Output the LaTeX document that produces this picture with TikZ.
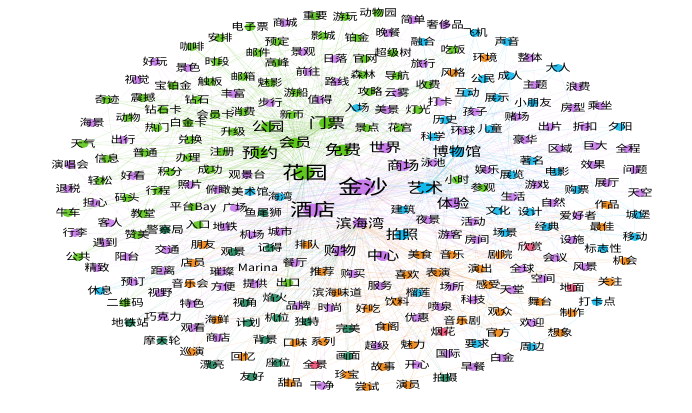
\documentclass[tikz,border=0pt]{standalone}
\usepackage{fontspec}
\newfontfamily\cjk[FakeStretch=1.25]{Noto Sans CJK SC}
\pgfdeclarelayer{bg}
\pgfsetlayers{bg,main}
\definecolor{cg}{RGB}{95,200,30}
\definecolor{cp}{RGB}{200,125,235}
\definecolor{cb}{RGB}{20,185,235}
\definecolor{co}{RGB}{240,135,20}
\definecolor{ct}{RGB}{35,140,100}
\definecolor{cr}{RGB}{240,80,120}
\tikzset{
  wbase/.style={inner sep=0pt,text=black},
  wa/.style={wbase,font=\cjk\fontsize{10}{10}\selectfont},
  wb/.style={wbase,font=\cjk\fontsize{13}{13}\selectfont},
  wc/.style={wbase,font=\cjk\fontsize{14.5}{14.5}\selectfont},
  wd/.style={wbase,font=\cjk\fontsize{18}{18}\selectfont},
  we/.style={wbase,font=\cjk\fontsize{20}{20}\selectfont},
  dota/.style={x radius=5.5pt,y radius=4pt},
  dotb/.style={x radius=7pt,y radius=5pt},
  dotc/.style={x radius=8pt,y radius=5.5pt},
  dotd/.style={x radius=10pt,y radius=6.5pt},
  dote/.style={x radius=12pt,y radius=7.5pt},
  eg/.style={draw=cg,line width=0.3pt,opacity=0.22},
  ep/.style={draw=cp,line width=0.3pt,opacity=0.13},
  eb/.style={draw=cb,line width=0.3pt,opacity=0.2},
  eo/.style={draw=co,line width=0.3pt,opacity=0.2},
  et/.style={draw=ct,line width=0.3pt,opacity=0.15},
  er/.style={draw=cr,line width=0.3pt,opacity=0.2},
}
\newcommand{\wordnode}[5]{\node[w#4] (#1) at (#2,#3) {#5};}
\begin{document}
\begin{tikzpicture}[x=1pt,y=-1pt]
\useasboundingbox (0,0) rectangle (692,412);
% ---------- green
\wordnode{g1}{250}{27}{a}{电子票}
\wordnode{g2}{315}{16}{a}{重要}
\wordnode{g3}{345}{17}{a}{游玩}
\wordnode{g4}{378}{13}{a}{动物园}
\wordnode{g5}{220}{38}{a}{安排}
\wordnode{g6}{323}{36}{a}{影城}
\wordnode{g7}{357}{38}{a}{铂金}
\wordnode{g8}{192}{47}{a}{咖啡}
\wordnode{g9}{277}{42}{a}{预定}
\wordnode{g10}{217}{62}{a}{时段}
\wordnode{g11}{258}{53}{a}{邮件}
\wordnode{g12}{365}{59}{a}{官网}
\wordnode{g13}{393}{53}{a}{超级树}
\wordnode{g14}{453}{50}{a}{吃饭}
\wordnode{g15}{173}{86}{a}{宝铂金}
\wordnode{g16}{210}{82}{a}{触板}
\wordnode{g17}{277}{63}{a}{高峰}
\wordnode{g18}{363}{75}{a}{森林}
\wordnode{g19}{397}{76}{a}{导航}
\wordnode{g20}{243}{77}{a}{邮箱}
\wordnode{g21}{270}{83}{a}{魅影}
\wordnode{g22}{370}{92}{a}{攻略}
\wordnode{g23}{428}{85}{a}{收费}
\wordnode{g24}{107}{100}{a}{奇迹}
\wordnode{g25}{143}{98}{a}{震撼}
\wordnode{g26}{197}{100}{a}{钻石}
\wordnode{g27}{296}{93}{a}{游船}
\wordnode{g28}{163}{110}{a}{钻石卡}
\wordnode{g29}{215}{115}{a}{会员卡}
\wordnode{g30}{243}{112}{a}{消费}
\wordnode{g31}{292}{115}{a}{新币}
\wordnode{g32}{327}{123}{c}{门票}
\wordnode{g33}{367}{128}{a}{景点}
\wordnode{g34}{400}{128}{a}{花宫}
\wordnode{g35}{418}{110}{a}{灯光}
\wordnode{g36}{128}{118}{a}{动物}
\wordnode{g37}{188}{123}{a}{白金卡}
\wordnode{g38}{233}{132}{a}{升级}
\wordnode{g39}{268}{127}{b}{公园}
\wordnode{g40}{83}{144}{a}{天气}
\wordnode{g41}{157}{128}{a}{热门}
\wordnode{g42}{190}{140}{a}{兑换}
\wordnode{g43}{222}{152}{a}{注册}
\wordnode{g44}{260}{153}{c}{预约}
\wordnode{g45}{295}{143}{b}{会员}
\wordnode{g46}{343}{150}{c}{免费}
\wordnode{g47}{188}{158}{a}{办理}
\wordnode{g48}{210}{170}{a}{成功}
\wordnode{g49}{305}{173}{d}{花园}
\wordnode{g50}{107}{159}{a}{信息}
\wordnode{g51}{145}{153}{a}{普通}
\wordnode{g52}{170}{172}{a}{积分}
\wordnode{g53}{100}{181}{a}{轻松}
\wordnode{g54}{127}{198}{a}{码头}
\wordnode{g55}{158}{191}{a}{行程}
\wordnode{g56}{68}{213}{a}{牛车}
\wordnode{g57}{143}{214}{a}{教堂}
\wordnode{g58}{193}{207}{a}{平台Bay}
\wordnode{g59}{137}{235}{a}{赞美}
\wordnode{g60}{78}{257}{a}{公共}
\wordnode{g61}{198}{225}{a}{入口}
\wordnode{g62}{288}{283}{a}{出口}
\wordnode{g63}{125}{303}{a}{二维码}
\wordnode{g64}{457}{180}{a}{小时}
\wordnode{g65}{483}{188}{a}{参观}
% ---------- purple
\wordnode{p1}{285}{23}{a}{商城}
\wordnode{p2}{413}{20}{a}{简单}
\wordnode{p3}{445}{25}{a}{奢侈品}
\wordnode{p4}{388}{33}{a}{晚餐}
\wordnode{p5}{155}{62}{a}{好玩}
\wordnode{p6}{188}{68}{a}{景色}
\wordnode{p7}{303}{52}{a}{景观}
\wordnode{p8}{335}{59}{a}{日落}
\wordnode{p9}{530}{58}{a}{整体}
\wordnode{p10}{137}{80}{a}{视觉}
\wordnode{p11}{308}{72}{a}{前往}
\wordnode{p12}{423}{64}{a}{旅行}
\wordnode{p13}{535}{85}{a}{主题}
\wordnode{p14}{578}{87}{a}{浪费}
\wordnode{p15}{337}{82}{a}{路线}
\wordnode{p16}{397}{93}{a}{云雾}
\wordnode{p17}{233}{94}{a}{丰富}
\wordnode{p18}{270}{103}{a}{步行}
\wordnode{p19}{320}{100}{a}{值得}
\wordnode{p20}{573}{108}{a}{房型}
\wordnode{p21}{600}{106}{a}{乘坐}
\wordnode{p22}{475}{112}{a}{孩子}
\wordnode{p23}{440}{102}{a}{打卡}
\wordnode{p24}{387}{110}{a}{美景}
\wordnode{p25}{517}{117}{a}{赌场}
\wordnode{p26}{92}{123}{a}{海景}
\wordnode{p27}{463}{131}{a}{环球}
\wordnode{p28}{525}{140}{a}{豪华}
\wordnode{p29}{550}{127}{a}{出片}
\wordnode{p30}{585}{127}{a}{折扣}
\wordnode{p31}{560}{149}{a}{区域}
\wordnode{p32}{595}{146}{a}{巨大}
\wordnode{p33}{628}{149}{a}{全程}
\wordnode{p34}{593}{165}{a}{效果}
\wordnode{p35}{635}{170}{a}{问题}
\wordnode{p36}{123}{140}{a}{出行}
\wordnode{p37}{385}{148}{b}{世界}
\wordnode{p38}{403}{166}{b}{商场}
\wordnode{p39}{433}{163}{a}{泳池}
\wordnode{p40}{247}{175}{a}{观景台}
\wordnode{p41}{363}{187}{e}{金沙}
\wordnode{p42}{487}{170}{a}{娱乐}
\wordnode{p43}{513}{197}{a}{生活}
\wordnode{p44}{537}{185}{a}{游戏}
\wordnode{p45}{607}{183}{a}{展厅}
\wordnode{p46}{640}{193}{a}{天空}
\wordnode{p47}{553}{203}{a}{自然}
\wordnode{p48}{578}{216}{a}{爱好者}
\wordnode{p49}{572}{240}{a}{设施}
\wordnode{p50}{555}{258}{a}{会议}
\wordnode{p51}{522}{269}{a}{全球}
\wordnode{p52}{585}{267}{a}{风景}
\wordnode{p53}{543}{279}{a}{空间}
\wordnode{p54}{512}{290}{a}{天堂}
\wordnode{p55}{532}{323}{a}{欢迎}
\wordnode{p56}{70}{165}{a}{演唱会}
\wordnode{p57}{133}{176}{a}{好看}
\wordnode{p58}{68}{189}{a}{退税}
\wordnode{p59}{95}{203}{a}{担心}
\wordnode{p60}{110}{223}{a}{客人}
\wordnode{p61}{75}{233}{a}{行李}
\wordnode{p62}{105}{243}{a}{遇到}
\wordnode{p63}{127}{257}{a}{阳台}
\wordnode{p64}{167}{250}{a}{交通}
\wordnode{p65}{97}{268}{a}{精致}
\wordnode{p66}{190}{185}{a}{照片}
\wordnode{p67}{218}{190}{a}{俯瞰}
\wordnode{p68}{235}{208}{a}{广场}
\wordnode{p69}{313}{210}{d}{酒店}
\wordnode{p70}{360}{223}{b}{滨海湾}
\wordnode{p71}{453}{203}{b}{体验}
\wordnode{p72}{428}{220}{a}{夜景}
\wordnode{p73}{473}{222}{a}{活动}
\wordnode{p74}{450}{235}{a}{游客}
\wordnode{p75}{477}{240}{a}{房间}
\wordnode{p76}{225}{227}{a}{地铁}
\wordnode{p77}{252}{235}{a}{机场}
\wordnode{p78}{280}{232}{a}{城市}
\wordnode{p79}{340}{251}{b}{购物}
\wordnode{p80}{383}{256}{b}{中心}
\wordnode{p81}{222}{272}{a}{璀璨}
\wordnode{p82}{295}{263}{a}{餐厅}
\wordnode{p83}{353}{274}{a}{购买}
\wordnode{p84}{223}{287}{a}{方便}
\wordnode{p85}{255}{284}{a}{提供}
\wordnode{p86}{298}{306}{a}{品牌}
\wordnode{p87}{330}{308}{a}{时尚}
\wordnode{p88}{380}{286}{a}{服务}
\wordnode{p89}{452}{287}{a}{场所}
\wordnode{p90}{440}{307}{a}{喷泉}
\wordnode{p91}{473}{300}{a}{科技}
\wordnode{p92}{417}{318}{a}{优惠}
\wordnode{p93}{377}{346}{a}{超级}
\wordnode{p94}{448}{354}{a}{国际}
\wordnode{p95}{502}{358}{a}{白金}
\wordnode{p96}{417}{365}{a}{开心}
\wordnode{p97}{473}{367}{a}{早餐}
\wordnode{p98}{322}{386}{a}{干净}
\wordnode{p99}{218}{338}{a}{商店}
\wordnode{p100}{192}{304}{a}{特色}
\wordnode{p101}{193}{328}{a}{观看}
\wordnode{p102}{163}{271}{a}{距离}
\wordnode{p103}{133}{282}{a}{预订}
\wordnode{p104}{160}{293}{a}{视野}
\wordnode{p105}{163}{317}{a}{巧克力}
% ---------- blue
\wordnode{b1}{423}{42}{a}{融合}
\wordnode{b2}{507}{42}{a}{声音}
\wordnode{b3}{483}{79}{a}{公民}
\wordnode{b4}{510}{76}{a}{成人}
\wordnode{b5}{558}{68}{a}{大人}
\wordnode{b6}{467}{93}{a}{互动}
\wordnode{b7}{497}{98}{a}{展示}
\wordnode{b8}{357}{108}{a}{入场}
\wordnode{b9}{533}{103}{a}{小朋友}
\wordnode{b10}{445}{120}{a}{历史}
\wordnode{b11}{490}{129}{a}{儿童}
\wordnode{b12}{620}{127}{a}{夕阳}
\wordnode{b13}{532}{161}{a}{著名}
\wordnode{b14}{557}{172}{a}{电影}
\wordnode{b15}{512}{175}{a}{展览}
\wordnode{b16}{433}{137}{a}{科学}
\wordnode{b17}{457}{152}{b}{博物馆}
\wordnode{b18}{425}{188}{c}{艺术}
\wordnode{b19}{577}{190}{a}{购票}
\wordnode{b20}{638}{215}{a}{城堡}
\wordnode{b21}{498}{211}{a}{文化}
\wordnode{b22}{530}{212}{a}{设计}
\wordnode{b23}{547}{227}{a}{经典}
\wordnode{b24}{505}{233}{a}{场景}
\wordnode{b25}{635}{237}{a}{移动}
\wordnode{b26}{603}{249}{a}{标志性}
\wordnode{b27}{597}{302}{a}{打卡点}
\wordnode{b28}{532}{347}{a}{周边}
\wordnode{b29}{250}{192}{a}{美术馆}
\wordnode{b30}{280}{197}{a}{海湾}
\wordnode{b31}{403}{210}{a}{建筑}
\wordnode{b32}{402}{235}{b}{拍照}
\wordnode{b33}{418}{293}{a}{榴莲}
\wordnode{b34}{477}{344}{a}{要求}
\wordnode{b35}{100}{291}{a}{休息}
\wordnode{b36}{475}{33}{a}{飞机}
% ---------- orange
\wordnode{o1}{485}{58}{a}{环境}
\wordnode{o2}{453}{73}{a}{风格}
\wordnode{o3}{607}{205}{a}{作品}
\wordnode{o4}{602}{227}{a}{最佳}
\wordnode{o5}{500}{255}{a}{剧院}
\wordnode{o6}{625}{261}{a}{机会}
\wordnode{o7}{610}{282}{a}{关注}
\wordnode{o8}{540}{302}{a}{舞台}
\wordnode{o9}{572}{313}{a}{制作}
\wordnode{o10}{560}{333}{a}{想象}
\wordnode{o11}{203}{245}{a}{朋友}
\wordnode{o12}{307}{245}{a}{排队}
\wordnode{o13}{420}{255}{a}{美食}
\wordnode{o14}{452}{255}{a}{音乐}
\wordnode{o15}{193}{263}{a}{店员}
\wordnode{o16}{322}{272}{a}{推荐}
\wordnode{o17}{337}{293}{a}{滨海味道}
\wordnode{o18}{190}{284}{a}{音乐会}
\wordnode{o19}{368}{309}{a}{好吃}
\wordnode{o20}{407}{275}{a}{喜欢}
\wordnode{o21}{438}{273}{a}{表演}
\wordnode{o22}{480}{269}{a}{演出}
\wordnode{o23}{488}{285}{a}{感受}
\wordnode{o24}{397}{302}{a}{饮料}
\wordnode{o25}{500}{312}{a}{观众}
\wordnode{o26}{462}{321}{a}{音乐剧}
\wordnode{o27}{387}{327}{a}{食阁}
\wordnode{o28}{498}{333}{a}{官方}
\wordnode{o29}{413}{345}{a}{魅力}
\wordnode{o30}{383}{367}{a}{故事}
\wordnode{o31}{408}{385}{a}{演员}
\wordnode{o32}{367}{387}{a}{尝试}
\wordnode{o33}{295}{343}{a}{口味}
\wordnode{o34}{323}{342}{a}{系列}
\wordnode{o35}{243}{357}{a}{回忆}
\wordnode{o36}{347}{375}{a}{珍宝}
\wordnode{o37}{290}{383}{a}{甜品}
\wordnode{o38}{217}{320}{a}{海鲜}
\wordnode{o39}{192}{352}{a}{巡演}
% ---------- teal
\wordnode{t1}{263}{213}{a}{鱼尾狮}
\wordnode{t2}{165}{230}{a}{警察局}
\wordnode{t3}{233}{252}{a}{观景}
\wordnode{t4}{270}{248}{a}{记得}
\wordnode{t5}{245}{303}{a}{视角}
\wordnode{t6}{275}{298}{a}{焰火}
\wordnode{t7}{248}{323}{a}{计划}
\wordnode{t8}{277}{318}{a}{机位}
\wordnode{t9}{307}{322}{a}{独特}
\wordnode{t10}{265}{340}{a}{背景}
\wordnode{t11}{348}{329}{a}{完美}
\wordnode{t12}{348}{356}{a}{画面}
\wordnode{t13}{278}{363}{a}{座位}
\wordnode{t14}{252}{377}{a}{友好}
\wordnode{t15}{445}{378}{a}{拍摄}
\wordnode{t16}{212}{365}{a}{漂亮}
\wordnode{t17}{130}{323}{a}{地铁站}
\wordnode{t18}{162}{341}{a}{摩天轮}
% ---------- pink
\wordnode{r1}{530}{247}{a}{欣赏}
\wordnode{r2}{572}{288}{a}{地面}
\wordnode{r3}{443}{332}{a}{烟花}
\wordnode{r4}{315}{365}{a}{全景}
% ---------- plain
\node[wa] (m1) at (258,268) {Marina};
% ---------- background, edges and dots (one background layer)
\begin{pgfonlayer}{bg}
\fill[white] (0,0) rectangle (692,412);
\foreach \i in {1,...,65}{
  \ifnum\i=49\else\draw[eg] (g\i.center) to[bend left=8] (g49.center);\fi
  \ifnum\i=32\else\draw[eg] (g\i.center) to[bend right=8] (g32.center);\fi
  \ifnum\i=45\else\draw[eg] (g\i.center) to[bend left=6] (g45.center);\fi
  \pgfmathtruncatemacro\k{mod(\i*7,65)+1}
  \ifnum\k=\i\else\draw[eg] (g\i.center) to[bend left=6] (g\k.center);\fi
}
\foreach \i in {1,...,105}{
  \ifnum\i=41\else\draw[ep] (p\i.center) to[bend left=8] (p41.center);\fi
  \ifnum\i=69\else\draw[ep] (p\i.center) to[bend right=8] (p69.center);\fi
  \pgfmathtruncatemacro\k{mod(\i*13,105)+1}
  \ifnum\k=\i\else\draw[ep] (p\i.center) to[bend left=6] (p\k.center);\fi
}
\foreach \i in {1,...,36}{
  \ifnum\i=18\else\draw[eb] (b\i.center) to[bend left=8] (b18.center);\fi
  \ifnum\i=17\else\draw[eb] (b\i.center) to[bend right=8] (b17.center);\fi
  \pgfmathtruncatemacro\k{mod(\i*5,36)+1}
  \ifnum\k=\i\else\draw[eb] (b\i.center) to[bend left=6] (b\k.center);\fi
}
\foreach \i in {1,...,39}{
  \draw[eo] (o\i.center) to[bend left=8] (p70.center);
  \ifnum\i=21\else\draw[eo] (o\i.center) to[bend right=8] (o21.center);\fi
  \pgfmathtruncatemacro\k{mod(\i*7,39)+1}
  \ifnum\k=\i\else\draw[eo] (o\i.center) to[bend left=6] (o\k.center);\fi
}
\foreach \i in {1,...,18}{
  \draw[et] (t\i.center) to[bend left=8] (p70.center);
  \draw[et] (t\i.center) to[bend right=8] (g49.center);
  \draw[et] (t\i.center) to[bend right=8] (p79.center);
}
\foreach \i in {1,...,4}{
  \draw[er] (r\i.center) to[bend left=8] (p41.center);
  \draw[er] (r\i.center) to[bend right=8] (b18.center);
}
\draw[ep] (m1.center) to[bend left=8] (p41.center);
\draw[ep] (m1.center) to[bend left=8] (p70.center);
% dots
\foreach \i in {1,...,65}{\fill[cg,fill opacity=0.9] (g\i.center) ellipse[dota];}
\foreach \i in {1,...,105}{\fill[cp,fill opacity=0.9] (p\i.center) ellipse[dota];}
\foreach \i in {1,...,36}{\fill[cb,fill opacity=0.9] (b\i.center) ellipse[dota];}
\foreach \i in {1,...,39}{\fill[co,fill opacity=0.9] (o\i.center) ellipse[dota];}
\foreach \i in {1,...,18}{\fill[ct,fill opacity=0.9] (t\i.center) ellipse[dota];}
\foreach \i in {1,...,4}{\fill[cr,fill opacity=0.9] (r\i.center) ellipse[dota];}
\foreach \n/\s in {g39/b,g45/b,g32/c,g44/c,g46/c,g49/d}{\fill[cg] (\n.center) ellipse[dot\s];}
\foreach \n/\s in {p37/b,p38/b,p70/b,p71/b,p79/b,p80/b,p69/d,p41/e}{\fill[cp] (\n.center) ellipse[dot\s];}
\foreach \n/\s in {b17/b,b32/b,b18/c}{\fill[cb] (\n.center) ellipse[dot\s];}
\end{pgfonlayer}
\end{tikzpicture}
\end{document}
